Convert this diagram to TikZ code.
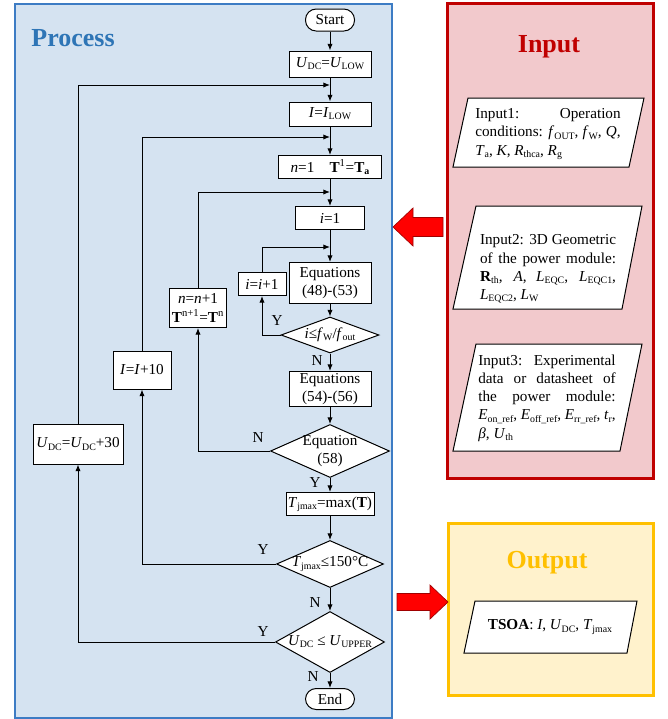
\documentclass[tikz,border=0pt]{standalone}
\usepackage{fontspec}
\setmainfont{Liberation Serif}
\usetikzlibrary{arrows.meta, shapes.geometric}
\hyphenpenalty=10000
\exhyphenpenalty=10000
\newcommand{\subtxt}[1]{\raisebox{-0.3ex}{\fontsize{7.4}{8}\selectfont #1}}
\definecolor{procfill}{HTML}{D5E3F1}
\definecolor{procedge}{HTML}{3D7CC4}
\definecolor{procblue}{HTML}{2E75B6}
\definecolor{infill}{HTML}{F2C9CC}
\definecolor{inedge}{HTML}{C00000}
\definecolor{outfill}{HTML}{FFF2CC}
\definecolor{outedge}{HTML}{FFC000}
\definecolor{bigarrow}{HTML}{FF0000}
\definecolor{bigarrowedge}{HTML}{A00000}

\begin{document}
\begin{tikzpicture}[x=0.75pt, y=-0.75pt, font=\fontsize{11.4}{13.7}\selectfont,
    box/.style={draw, fill=white, inner sep=1pt, align=center, line width=0.75pt},
    term/.style={box, rounded corners=8pt, minimum width=36.75pt, minimum height=16.5pt},
    decision/.style={diamond, draw, fill=white, inner sep=0pt, line width=0.75pt},
    flow/.style={-{Latex[length=5pt,width=4pt]}, line width=0.75pt},
    yn/.style={inner sep=0pt},
    datapar/.style={draw, fill=white, line width=0.75pt},
    datatxt/.style={align=justify, inner sep=0pt},
    title/.style={font=\fontsize{19.5}{22}\selectfont\bfseries}]

  \useasboundingbox (0,0) rectangle (668,719);

  % panels
  \draw[fill=procfill, draw=procedge, line width=1.5pt] (15,4) rectangle (392,718);
  \draw[fill=infill, draw=inedge, line width=2.25pt] (447,3) rectangle (653,478);
  \draw[fill=outfill, draw=outedge, line width=2.25pt] (448,523) rectangle (653,695);

  \node[title, text=procblue] (ptitle) at (73,38) {Process};
  \node[title, text=inedge] (ititle) at (549,47) {Input};
  \node[title, text=outedge] (otitle) at (547,563) {Output};

  % big arrows
  \draw[fill=bigarrow, draw=bigarrowedge, line width=0.5pt] (443,217.5) -- (413,217.5) -- (413,208) -- (393,227) -- (413,246) -- (413,236.5) -- (443,236.5) -- cycle;
  \draw[fill=bigarrow, draw=bigarrowedge, line width=0.5pt] (397,593.5) -- (430,593.5) -- (430,585) -- (448,602) -- (430,619) -- (430,610.5) -- (397,610.5) -- cycle;

  % input data
  \draw[datapar] (468,98) -- (644,98) -- (629,167) -- (453,167) -- cycle;
  \node[datatxt, text width=109pt] (in1) at (548,134) {Input1: Operation\linebreak conditions: \textit{f}\subtxt{OUT}, \textit{f}\subtxt{W}, \textit{Q},\linebreak \textit{T}\subtxt{a}, \textit{K}, \textit{R}\subtxt{thca}, \textit{R}\subtxt{g}};

  \draw[datapar] (476,206) -- (642,206) -- (622,309) -- (453,309) -- cycle;
  \node[datatxt, text width=102pt] (in2) at (548,269) {Input2: 3D Geometric\linebreak of the power module:\linebreak \textbf{R}\subtxt{th}, \textit{A}, \textit{L}\subtxt{EQC}, \textit{L}\subtxt{EQC1},\linebreak \textit{L}\subtxt{EQC2}, \textit{L}\subtxt{W}};

  \draw[datapar] (476,344) -- (642,344) -- (620,451) -- (453,451) -- cycle;
  \node[datatxt, text width=103pt] (in3) at (547,398) {Input3: Experimental\linebreak data or datasheet of\linebreak the power module:\linebreak \textit{E}\subtxt{on\_ref}, \textit{E}\subtxt{off\_ref}, \textit{E}\subtxt{rr\_ref}, \textit{t}\subtxt{r},\linebreak \textit{β}, \textit{U}\subtxt{th}};

  % output data
  \draw[datapar] (475,601) -- (637,601) -- (627,653) -- (464,653) -- cycle;
  \node (tsoa) at (550,627) {\textbf{TSOA}: \textit{I}, \textit{U}\subtxt{DC}, \textit{T}\subtxt{jmax}};

  % main column
  \node[term] (start) at (330,20) {Start};
  \node[box, minimum width=61.5pt, minimum height=19.5pt] (udc) at (330,64) {\textit{U}\subtxt{DC}=\textit{U}\subtxt{LOW}};
  \node[box, minimum width=61.5pt, minimum height=18pt] (ilow) at (330,114) {\textit{I}=\textit{I}\subtxt{LOW}};
  \node[box, minimum width=77.25pt, minimum height=17.25pt] (n1) at (330,167) {\textit{n}=1\quad\textbf{T}\textsuperscript{1}=\textbf{T}\subtxt{\textbf{a}}};
  \node[box, minimum width=51.75pt, minimum height=17.25pt] (i1) at (330,218) {\textit{i}=1};
  \node[box, minimum width=61.5pt, minimum height=30.75pt] (eqa) at (330,283) {Equations\\(48)-(53)};
  \node[decision, minimum width=73.5pt, minimum height=27pt, label={center:{\textit{i}≤\textit{f}\subtxt{W}/\textit{f}\subtxt{out}}}] (di) at (330,335) {};
  \node[box, minimum width=61.5pt, minimum height=26.25pt] (eqb) at (330,389) {Equations\\(54)-(56)};
  \node[decision, minimum width=89.25pt, minimum height=39.75pt, label={center:{\begin{tabular}{@{}c@{}}Equation\\(58)\end{tabular}}}] (d58) at (330,451) {};
  \node[box, minimum width=66pt, minimum height=17.25pt] (tj) at (330,504) {\textit{T}\subtxt{jmax}=max(\textbf{T})};
  \node[decision, minimum width=80.25pt, minimum height=35.25pt, label={center:{\textit{T}\subtxt{jmax}≤150°C}}] (d150) at (330,564) {};
  \node[decision, minimum width=81.75pt, minimum height=45.75pt, label={center:{\textit{U}\subtxt{DC} ≤ \textit{U}\subtxt{UPPER}}}] (dU) at (330,642) {};
  \node[term, minimum height=15.75pt] (end) at (330,699) {End};

  % loop boxes
  \node[box, minimum width=36pt, minimum height=17.25pt] (ii) at (262,284) {\textit{i}=\textit{i}+1};
  \node[box, minimum width=42.75pt, minimum height=29.25pt] (nn) at (198,308) {\textit{n}=\textit{n}+1\\\textbf{T}\textsuperscript{n+1}=\textbf{T}\textsuperscript{n}};
  \node[box, minimum width=43.5pt, minimum height=28.5pt] (i10) at (142,370) {\textit{I}=\textit{I}+10};
  \node[box, minimum width=67.5pt, minimum height=30pt] (u30) at (78,444) {\textit{U}\subtxt{DC}=\textit{U}\subtxt{DC}+30};

  % joints on the main line
  \coordinate (jU) at (330,85);
  \coordinate (jI) at (330,137);
  \coordinate (jN) at (330,192);
  \coordinate (jE) at (330,247);

  \draw[flow] (start) -- (udc);
  \draw[flow] (udc) -- (ilow);
  \draw[flow] (ilow) -- (n1);
  \draw[flow] (n1) -- (i1);
  \draw[flow] (i1) -- (eqa);
  \draw[flow] (eqa) -- (di);
  \draw[flow] (di) -- (eqb);
  \draw[flow] (eqb) -- (d58);
  \draw[flow] (d58) -- (tj);
  \draw[flow] (tj) -- (d150);
  \draw[flow] (d150) -- (dU);
  \draw[flow] (dU) -- (end);

  \draw[flow] (di.west) -| (ii.south);
  \draw[flow] (ii.north) |- (jE);
  \draw[flow] (d58.west) -| (nn.south);
  \draw[flow] (nn.north) |- (jN);
  \draw[flow] (d150.west) -| (i10.south);
  \draw[flow] (i10.north) |- (jI);
  \draw[flow] (dU.west) -| (u30.south);
  \draw[flow] (u30.north) |- (jU);

  % branch labels
  \node[yn] (ydi) at (277,321) {Y};
  \node[yn] (ndi) at (317,361) {N};
  \node[yn] (nd58) at (258,438) {N};
  \node[yn] (yd58) at (315,483) {Y};
  \node[yn] (yd150) at (263,550) {Y};
  \node[yn] (nd150) at (315,603) {N};
  \node[yn] (ydU) at (263,632) {Y};
  \node[yn] (ndU) at (313,677) {N};
\end{tikzpicture}
\end{document}
